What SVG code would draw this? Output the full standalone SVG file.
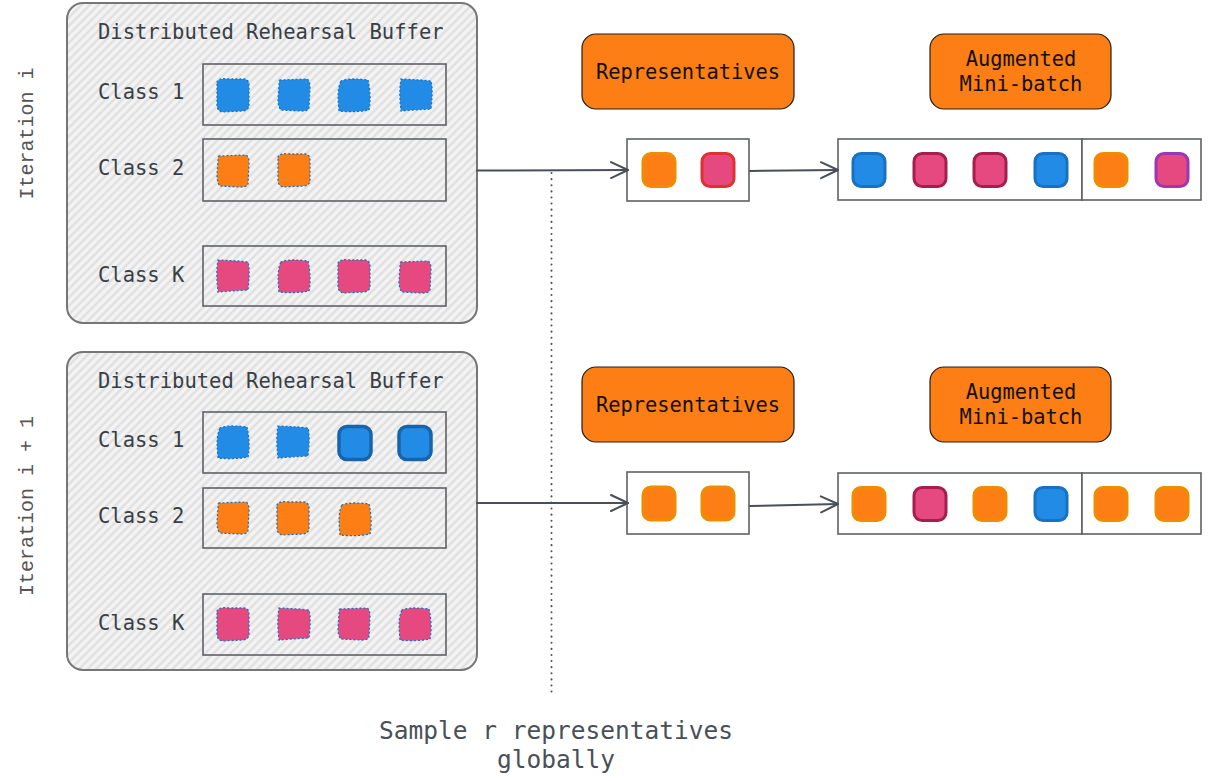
<svg xmlns="http://www.w3.org/2000/svg" xmlns:xlink="http://www.w3.org/1999/xlink" width="1216" height="781" viewBox="0 0 1216 781">
<style>
.buf{fill:url(#hatch);stroke:#767676;stroke-width:2}
.cls{fill:none;stroke:#5e6166;stroke-width:1.6}
.title,.lbl{font-family:"DejaVu Sans Mono","Liberation Mono",monospace;font-size:20.5px;fill:#383e45}
.iter{font-family:"Liberation Mono","DejaVu Sans Mono",monospace;font-size:20px;fill:#555555;text-anchor:middle}
.otext{font-family:"DejaVu Sans Mono","Liberation Mono",monospace;font-size:20.4px;fill:#111;text-anchor:middle}
.note{font-family:"DejaVu Sans Mono","Liberation Mono",monospace;font-size:24.5px;fill:#495057;text-anchor:middle}
.obox{fill:#fd7e14;stroke:#1e1e1e;stroke-width:1.2}
.wbox{fill:#fff;stroke:#5e6166;stroke-width:1.6}
.bsq{stroke:#1971c2;stroke-width:1.3;stroke-dasharray:1 3;stroke-linecap:round}
.blue{fill:#228be6}
.orange{fill:#fd7e14}
.pink{fill:#e64980}
.rsq{stroke-width:3}
.rblue{fill:#228be6;stroke:#1971c2}
.rdblue{fill:#228be6;stroke:#1864ab;stroke-width:3.5}
.rpink{fill:#e64980;stroke:#a61e4d}
.rred{fill:#e64980;stroke:#e03131}
.rpurple{fill:#e64980;stroke:#9c36b5}
.rorange{fill:#fd7e14;stroke:#f08c00}
.conn path{fill:none;stroke:#495057;stroke-width:2;stroke-linecap:round}
.dots{fill:none;stroke:#495057;stroke-width:2.4;stroke-dasharray:0.1 6;stroke-linecap:round}
</style>
<defs>
<pattern id="hatch" patternUnits="userSpaceOnUse" width="6" height="6" patternTransform="rotate(45)">
<rect width="6" height="6" fill="#eeeeee"/>
<line x1="1" y1="0" x2="1" y2="6" stroke="#d2d2d2" stroke-width="1"/>
<line x1="4" y1="0" x2="4" y2="6" stroke="#fafafa" stroke-width="1"/>
</pattern>
<marker id="arr" markerUnits="userSpaceOnUse" markerWidth="24" markerHeight="24" refX="19" refY="10" orient="auto">
<path d="M2,2 L19,10 L2,18" fill="none" stroke="#495057" stroke-width="2" stroke-linecap="round" stroke-linejoin="round"/>
</marker>
<path id="s1" d="M-16,-13 C-15,-16 -10,-17 -4,-16 L12,-16 C15,-15 16,-13 16,-9 L16,10 C16,14 13,16 9,16 L-11,17 C-14,16 -16,14 -16,10 Z"/>
<path id="s2" d="M-14,-15 L13,-16 C15,-15 16,-12 16,-8 L15,13 C14,16 10,16 6,16 L-13,15 C-15,13 -16,9 -16,4 L-15,-11 C-15,-13 -15,-15 -14,-15 Z"/>
<path id="s3" d="M-15,-16 L5,-15 L15,-14 C17,-6 16,4 15,14 L-3,15 L-15,16 C-16,6 -17,-4 -15,-16 Z"/>
<path id="s4" d="M-13,-14 C-6,-17 6,-16 14,-15 C16,-6 17,5 15,15 C5,17 -6,17 -15,16 C-16,4 -17,-6 -13,-14 Z"/>
<rect id="r" x="-16" y="-16.5" width="32" height="33" rx="8"/>
</defs>

<rect width="1216" height="781" fill="#ffffff"/>

<g id="label-iter-i"><text class="iter" transform="translate(33,133.5) rotate(-90)">Iteration i</text></g>
<g id="label-iter-i1"><text class="iter" transform="translate(33,506) rotate(-90)">Iteration i + 1</text></g>

<g id="buffer-top">
<rect class="buf" x="67" y="3" width="410" height="320" rx="16"/>
<text class="title" x="98" y="39">Distributed Rehearsal Buffer</text>
<rect class="cls" x="203" y="64" width="243" height="61"/>
<rect class="cls" x="203" y="139" width="243" height="62"/>
<rect class="cls" x="203" y="246" width="243" height="60"/>
<text class="lbl" x="98" y="99">Class 1</text>
<text class="lbl" x="98" y="175">Class 2</text>
<text class="lbl" x="98" y="282">Class K</text>
<use href="#s1" class="bsq blue" x="233" y="95"/>
<use href="#s2" class="bsq blue" x="294" y="95"/>
<use href="#s4" class="bsq blue" x="354" y="95"/>
<use href="#s3" class="bsq blue" x="416" y="95"/>
<use href="#s2" class="bsq orange" x="233" y="171"/>
<use href="#s1" class="bsq orange" x="294" y="170"/>
<use href="#s3" class="bsq pink" x="233" y="276"/>
<use href="#s4" class="bsq pink" x="294" y="276"/>
<use href="#s1" class="bsq pink" x="354" y="276"/>
<use href="#s2" class="bsq pink" x="415" y="277"/>
</g>

<g id="buffer-bottom">
<rect class="buf" x="67" y="352" width="410" height="318" rx="16"/>
<text class="title" x="98" y="388">Distributed Rehearsal Buffer</text>
<rect class="cls" x="203" y="412" width="243" height="61"/>
<rect class="cls" x="203" y="488" width="243" height="60"/>
<rect class="cls" x="203" y="594" width="243" height="61"/>
<text class="lbl" x="98" y="447">Class 1</text>
<text class="lbl" x="98" y="523">Class 2</text>
<text class="lbl" x="98" y="630">Class K</text>
<use href="#s4" class="bsq blue" x="233" y="442"/>
<use href="#s3" class="bsq blue" x="293" y="442"/>
<use href="#r" class="rdblue" x="355" y="443"/>
<use href="#r" class="rdblue" x="415" y="443"/>
<use href="#s2" class="bsq orange" x="233" y="518"/>
<use href="#s1" class="bsq orange" x="293" y="518"/>
<use href="#s4" class="bsq orange" x="355" y="519"/>
<use href="#s1" class="bsq pink" x="233" y="624"/>
<use href="#s3" class="bsq pink" x="294" y="624"/>
<use href="#s2" class="bsq pink" x="354" y="624"/>
<use href="#s4" class="bsq pink" x="415" y="624"/>
</g>

<g id="reps-label-top">
<rect class="obox" x="582" y="34" width="212" height="75" rx="14"/>
<text class="otext" x="688" y="79">Representatives</text>
</g>
<g id="aug-label-top">
<rect class="obox" x="930" y="34" width="181" height="75" rx="14"/>
<text class="otext" x="1021" y="66">Augmented</text>
<text class="otext" x="1021" y="91">Mini-batch</text>
</g>
<g id="reps-top">
<rect class="wbox" x="627" y="139" width="122" height="62"/>
<use href="#r" class="rsq rorange" x="659" y="170"/>
<use href="#r" class="rsq rred" x="718" y="170"/>
</g>
<g id="batch-top">
<rect class="wbox" x="838" y="139" width="244" height="61"/>
<rect class="wbox" x="1082" y="139" width="119" height="61"/>
<use href="#r" class="rsq rblue" x="869" y="170"/>
<use href="#r" class="rsq rpink" x="930" y="170"/>
<use href="#r" class="rsq rpink" x="990" y="170"/>
<use href="#r" class="rsq rblue" x="1051" y="170"/>
<use href="#r" class="rsq rorange" x="1111" y="170"/>
<use href="#r" class="rsq rpurple" x="1172" y="170"/>
</g>

<g id="reps-label-bottom">
<rect class="obox" x="582" y="367" width="212" height="75" rx="14"/>
<text class="otext" x="688" y="412">Representatives</text>
</g>
<g id="aug-label-bottom">
<rect class="obox" x="930" y="367" width="181" height="75" rx="14"/>
<text class="otext" x="1021" y="399">Augmented</text>
<text class="otext" x="1021" y="424">Mini-batch</text>
</g>
<g id="reps-bottom">
<rect class="wbox" x="627" y="472" width="122" height="62"/>
<use href="#r" class="rsq rorange" x="659" y="503.5"/>
<use href="#r" class="rsq rorange" x="718" y="503.5"/>
</g>
<g id="batch-bottom">
<rect class="wbox" x="838" y="473" width="244" height="61"/>
<rect class="wbox" x="1082" y="473" width="119" height="61"/>
<use href="#r" class="rsq rorange" x="869" y="504"/>
<use href="#r" class="rsq rpink" x="930" y="504"/>
<use href="#r" class="rsq rorange" x="990" y="504"/>
<use href="#r" class="rsq rblue" x="1051" y="504"/>
<use href="#r" class="rsq rorange" x="1111" y="504"/>
<use href="#r" class="rsq rorange" x="1172" y="504"/>
</g>

<g id="connectors" class="conn">
<path d="M477,170.5 L628,170" marker-end="url(#arr)"/>
<path d="M750,171 L838,170" marker-end="url(#arr)"/>
<path d="M477,503 L628,503" marker-end="url(#arr)"/>
<path d="M750,506 L838,504" marker-end="url(#arr)"/>
<path class="dots" d="M551.5,173 L551.5,697"/>
</g>

<g id="note">
<text class="note" x="556" y="739">Sample r representatives</text>
<text class="note" x="556" y="768">globally</text>
</g>
</svg>
